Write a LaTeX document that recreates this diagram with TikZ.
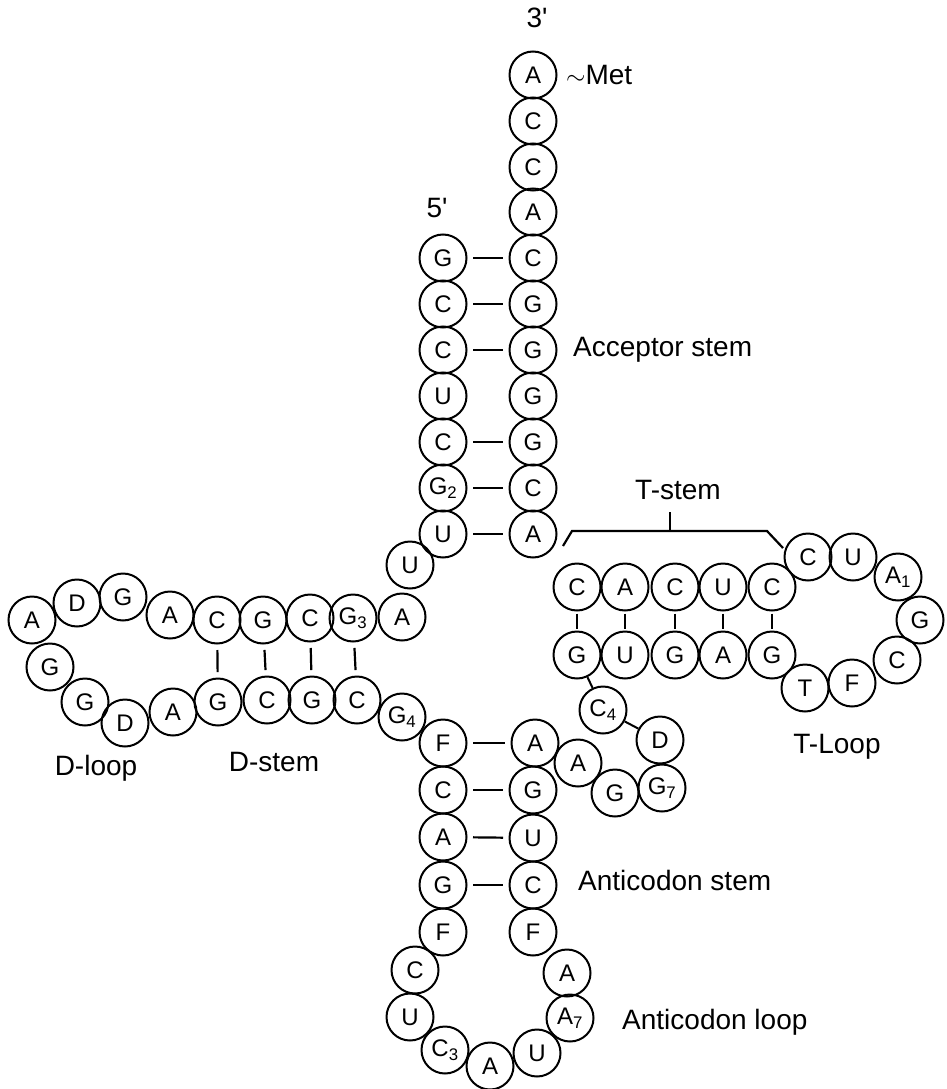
\documentclass[tikz,border=0pt]{standalone}
\usepackage{fontspec}
\setmainfont{Liberation Sans}
\begin{document}
\begin{tikzpicture}[x=1pt,y=-1pt,
  base/.style={draw,circle,line width=2pt,minimum size=47pt,inner sep=0pt,font=\fontsize{24}{24}\selectfont},
  bond/.style={line width=2.2pt,shorten <=5.5pt,shorten >=5.5pt},
  tick/.style={line width=2.2pt,shorten <=2pt,shorten >=2pt},
  lbl/.style={font=\fontsize{28}{28}\selectfont,inner sep=0pt}]
\useasboundingbox (0,0) rectangle (946,1089);
\node[base] (n1) at (443,258) {G};
\node[base] (n2) at (443,304) {C};
\node[base] (n3) at (443,350) {C};
\node[base] (n4) at (443,396) {U};
\node[base] (n5) at (443,442) {C};
\node[base] (n6) at (443,488) {G\textsubscript{2}};
\node[base] (n7) at (443,534) {U};
\node[base] (n8) at (410,565) {U};
\node[base] (n9) at (402,617) {A};
\node[base] (n10) at (353,618) {G\textsubscript{3}};
\node[base] (n11) at (310,618) {C};
\node[base] (n12) at (263,620) {G};
\node[base] (n13) at (217,620) {C};
\node[base] (n14) at (170,615) {A};
\node[base] (n15) at (123,597) {G};
\node[base] (n16) at (77,603) {D};
\node[base] (n17) at (32,620) {A};
\node[base] (n18) at (50,667) {G};
\node[base] (n19) at (85,702) {G};
\node[base] (n20) at (125,723) {D};
\node[base] (n21) at (173,712) {A};
\node[base] (n22) at (218,702) {G};
\node[base] (n23) at (267,700) {C};
\node[base] (n24) at (312,700) {G};
\node[base] (n25) at (357,700) {C};
\node[base] (n26) at (402,717) {G\textsubscript{4}};
\node[base] (n27) at (443,743) {F};
\node[base] (n28) at (443,790) {C};
\node[base] (n29) at (443,837) {A};
\node[base] (n30) at (443,885) {G};
\node[base] (n31) at (443,932) {F};
\node[base] (n32) at (415,970) {C};
\node[base] (n33) at (410,1017) {U};
\node[base] (n34) at (445,1050) {C\textsubscript{3}};
\node[base] (n35) at (490,1066) {A};
\node[base] (n36) at (537,1053) {U};
\node[base] (n37) at (570,1018) {A\textsubscript{7}};
\node[base] (n38) at (567,973) {A};
\node[base] (n39) at (533,932) {F};
\node[base] (n40) at (533,885) {C};
\node[base] (n41) at (533,838) {U};
\node[base] (n42) at (533,790) {G};
\node[base] (n43) at (535,743) {A};
\node[base] (n44) at (578,763) {A};
\node[base] (n45) at (615,793) {G};
\node[base] (n46) at (662,788) {G\textsubscript{7}};
\node[base] (n47) at (660,740) {D};
\node[base] (n48) at (603,710) {C\textsubscript{4}};
\node[base] (n49) at (577,655) {G};
\node[base] (n50) at (625,655) {U};
\node[base] (n51) at (675,655) {G};
\node[base] (n52) at (723,655) {A};
\node[base] (n53) at (772,655) {G};
\node[base] (n54) at (805,688) {T};
\node[base] (n55) at (852,683) {F};
\node[base] (n56) at (897,660) {C};
\node[base] (n57) at (920,620) {G};
\node[base] (n58) at (898,577) {A\textsubscript{1}};
\node[base] (n59) at (853,557) {U};
\node[base] (n60) at (808,557) {C};
\node[base] (n61) at (772,587) {C};
\node[base] (n62) at (723,587) {U};
\node[base] (n63) at (675,587) {C};
\node[base] (n64) at (625,587) {A};
\node[base] (n65) at (577,587) {C};
\node[base] (n66) at (533,534) {A};
\node[base] (n67) at (533,488) {C};
\node[base] (n68) at (533,442) {G};
\node[base] (n69) at (533,396) {G};
\node[base] (n70) at (533,350) {G};
\node[base] (n71) at (533,304) {G};
\node[base] (n72) at (533,258) {C};
\node[base] (n73) at (533,212) {A};
\node[base] (n74) at (533,167) {C};
\node[base] (n75) at (533,121) {C};
\node[base] (n76) at (533,75) {A};
\foreach \a/\b in {1/72,2/71,3/70,5/68,6/67,7/66,27/43,28/42,29/41,30/40}
  \draw[bond] (n\a) -- (n\b);
\foreach \a/\b in {10/25,11/24,12/23,13/22}
  \draw[bond] (n\a) -- (n\b);
\foreach \a/\b in {65/49,64/50,63/51,62/52,61/53}
  \draw[tick] (n\a) -- (n\b);
\draw[line width=2pt] (n47) -- (n48) -- (n49);
\coordinate (tl) at (563,546);
\coordinate (tr) at (783,548);
\draw[line width=2.2pt] (tl) -- ++(9,-15) coordinate (tla) -- (767,531) coordinate (tra) -- (tr);
\draw[line width=2.2pt] (670,531) coordinate (tm) -- (670,512) coordinate (tt);
\node[lbl] (p3) at (537,18) {3\textquotesingle};
\node[lbl] (p5) at (437,208) {5\textquotesingle};
\node[lbl,anchor=west] (met) at (566,75) {$\sim$Met};
\node[lbl,anchor=west] (accl) at (573,350) {Acceptor stem};
\node[lbl] (tsl) at (678,490) {T-stem};
\node[lbl] (tll) at (837,747) {T-Loop};
\node[lbl] (dll) at (96,768) {D-loop};
\node[lbl] (dsl) at (274,762) {D-stem};
\node[lbl,anchor=west] (asl) at (578,880) {Anticodon stem};
\node[lbl,anchor=west] (all) at (622,1022) {Anticodon loop};
\end{tikzpicture}
\end{document}
